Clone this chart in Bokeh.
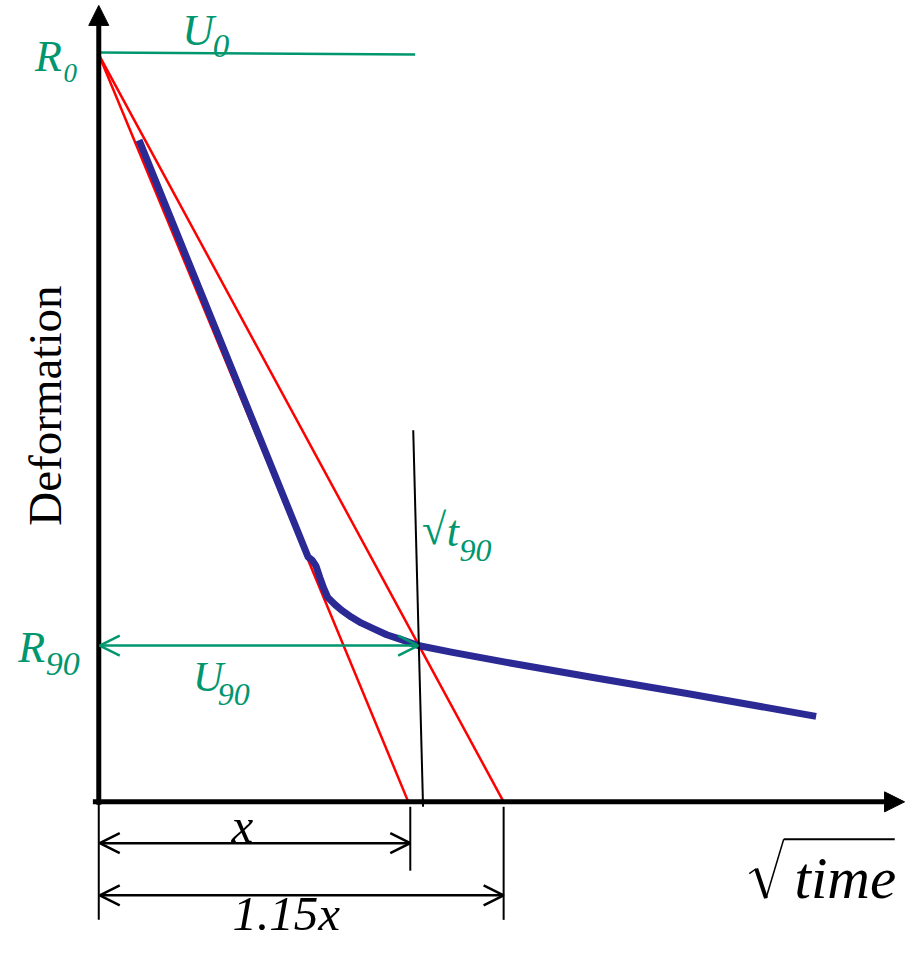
from math import pi
from bokeh.plotting import figure
from bokeh.models import Range1d, Arrow, OpenHead, NormalHead
from bokeh.core.properties import value
from bokeh.embed import file_html
from bokeh.resources import INLINE

# ---- data (units: sqrt(time) along x, deformation along y; origin at axes crossing)
curve_x = [41, 213, 217, 221, 225, 229, 233, 240, 247, 257, 267, 280, 293, 308, 325, 360, 420, 500, 600, 730]
curve_y = [673, 249, 246, 240, 228, 217, 208, 201, 195, 188, 182, 176, 170, 165, 159, 152, 141, 127, 110, 87]

R0 = 760          # initial reading
R90 = 159         # 90% reading
U0_end = 322      # extent of U0 line
x_tan = 315       # tangent intercept (x)
x_115 = 412       # 1.15x intercept
x_t90 = 325       # sqrt(t90) at R90
t90_top = (320, 378)
t90_bot = (330, -5)

x_axis_end = 820
y_axis_end = 810

dim_x_y = -42     # level of the "x" dimension arrow
dim_115_y = -95   # level of the "1.15x" dimension arrow

rad_x = [662, 669, 679, 697, 810]
rad_y = [-73, -68, -98, -38, -38]

GREEN = "#00966E"
RED = "#FF0000"
BLUE = "#2B2A94"
FONT = value("Liberation Serif")

p = figure(width=908, height=941, output_backend="svg", toolbar_location=None,
           x_range=Range1d(-100, 824), y_range=Range1d(-142, 815), min_border=0)
p.axis.visible = False
p.grid.visible = False
p.outline_line_color = None
p.background_fill_color = "white"

# U0 horizontal line
p.line([0, U0_end], [R0 + 2, R0], line_color=GREEN, line_width=2.5)

# tangent lines
p.line([0, x_tan], [R0, 0], line_color=RED, line_width=2.5)
p.line([0, x_115], [R0, 0], line_color=RED, line_width=2.5)

# consolidation curve
p.line(curve_x, curve_y, line_color=BLUE, line_width=7, line_join="round")

# t90 vertical
p.line([t90_top[0], t90_bot[0]], [t90_top[1], t90_bot[1]], line_color="black", line_width=2)

# dimension extension lines
p.line([0, 0], [-2, -120], line_color="black", line_width=2)
p.line([x_tan + 2, x_tan + 2], [-5, -70], line_color="black", line_width=2)
p.line([x_115, x_115], [-5, -120], line_color="black", line_width=2)

# axes with filled arrow heads
p.add_layout(Arrow(x_start=-6, y_start=0, x_end=x_axis_end, y_end=0, line_width=5, line_color="black",
                   end=NormalHead(size=20, fill_color="black", line_color="black")))
p.add_layout(Arrow(x_start=0, y_start=-3, x_end=0, y_end=y_axis_end, line_width=5, line_color="black",
                   end=NormalHead(size=20, fill_color="black", line_color="black")))

# double-headed dimension arrows
def dbl(x0, x1, y, color):
    p.add_layout(Arrow(x_start=x0, y_start=y, x_end=x1, y_end=y, line_width=2.5, line_color=color,
                       start=OpenHead(size=20, line_width=2.5, line_color=color),
                       end=OpenHead(size=20, line_width=2.5, line_color=color)))

dbl(1, x_t90, R90, GREEN)
dbl(1, x_tan + 2, dim_x_y, "black")
dbl(1, x_115, dim_115_y, "black")

# radical for sqrt(time)
p.line(rad_x[:2], rad_y[:2], line_color="black", line_width=1.5)
p.line(rad_x[1:3], rad_y[1:3], line_color="black", line_width=4)
p.line(rad_x[2:4], rad_y[2:4], line_color="black", line_width=1.5)
p.line(rad_x[3:], rad_y[3:], line_color="black", line_width=2)

def label(x, y, txt, size, color, style="italic", align="left", angle=0):
    p.text(x=[x], y=[y], text=[txt], text_font=FONT, text_font_size=f"{size}px",
           text_color=color, text_font_style=style, text_align=align,
           text_baseline="middle", angle=angle)

label(-65, 758, "R", 44, GREEN)
label(-36, 741, "0", 27, GREEN)
label(85, 784, "U", 44, GREEN)
label(116, 769, "0", 33, GREEN)
label(-82, 157, "R", 44, GREEN)
label(-54, 140, "90", 34, GREEN)
label(96, 127, "U", 42, GREEN)
label(121, 109, "90", 32, GREEN)
label(329, 277, "√", 44, GREEN, style="normal")
label(354, 275, "t", 44, GREEN)
label(367, 256, "90", 32, GREEN)
label(135, -24, "x", 49, "black")
label(136, -114, "1.15x", 49, "black")
label(708, -77, "time", 59, "black")
label(-55, 403, "Deformation", 47, "black", style="normal", align="center", angle=pi / 2)

open("out.html", "w").write(file_html(p, INLINE))
